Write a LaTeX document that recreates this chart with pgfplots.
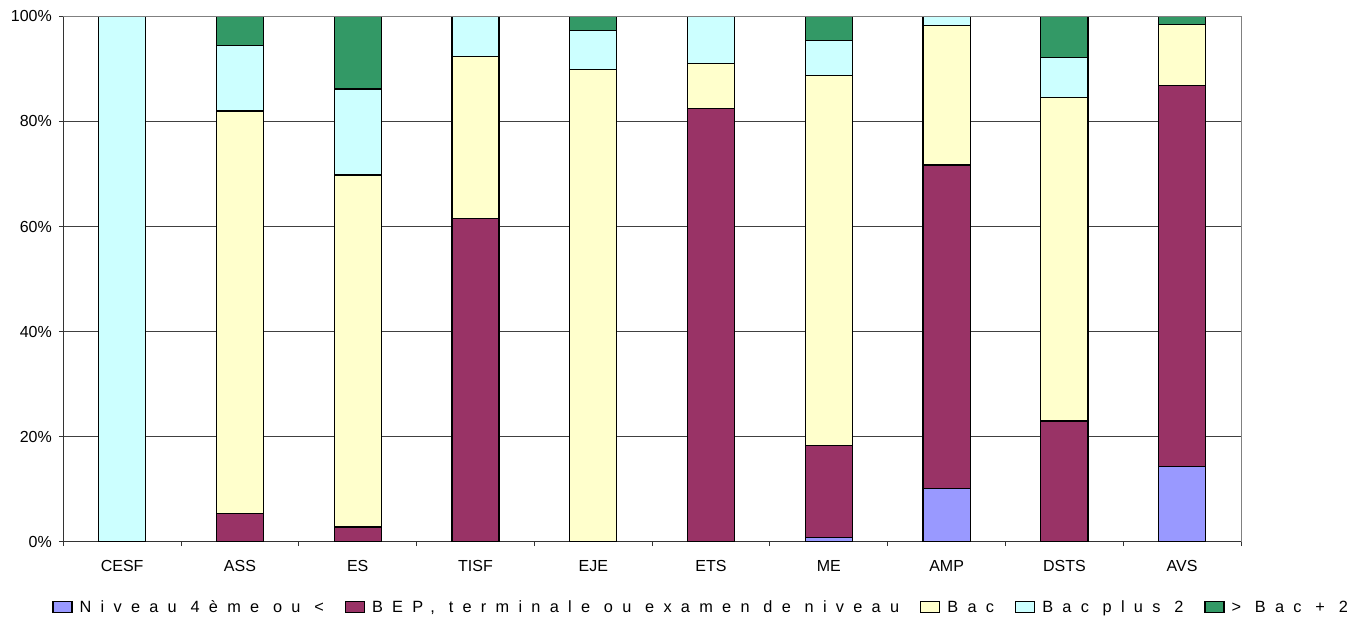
\documentclass[border=0pt]{standalone}
\usepackage{fontspec}
\setmainfont{Liberation Sans}
\newfontfamily\legfont[LetterSpace=57]{Liberation Sans}
\usepackage{pgfplots}
\pgfplotsset{compat=1.18}
\usepackage{pgfplotstable}

\definecolor{niv}{HTML}{9999FF}
\definecolor{bep}{HTML}{993366}
\definecolor{bac}{HTML}{FFFFCC}
\definecolor{bacdeux}{HTML}{CCFFFF}
\definecolor{supbac}{HTML}{339966}

% parts in %, one row per formation
\pgfplotstableread{
x   niv   bep    bac   bacdeux  supbac
0   0     0      0     100      0
1   0     5.4    76.6  12.4     5.6
2   0     2.8    67.0  16.4     13.8
3   0     61.5   30.8  7.7      0
4   0     0      89.9  7.4      2.7
5   0     82.5   8.6   8.9      0
6   0.75  17.65  70.4  6.6      4.6
7   10.1  61.6   26.5  1.8      0
8   0     23.0   61.5  7.75     7.75
9   14.4  72.4   11.6  0        1.6
}\parts

\begin{document}
\begin{tikzpicture}
\path[use as bounding box] (-31.65bp,-38.1bp) rectangle (645.85bp,270.9bp);
\begin{axis}[
    at={(0,0)}, anchor=south west,
    scale only axis,
    width=588.85bp, height=262.7bp,
    ybar stacked,
    bar width=0.4,
    xmin=-0.5, xmax=9.5,
    ymin=0, ymax=100,
    enlargelimits=false,
    axis lines*=left,
    axis line style={black!80, line width=0.6bp},
    xtick={-0.5,0.5,1.5,2.5,3.5,4.5,5.5,6.5,7.5,8.5,9.5},
    x tick label as interval,
    xticklabels={CESF,ASS,ES,TISF,EJE,ETS,ME,AMP,DSTS,AVS},
    ytick={0,20,40,60,80,100},
    yticklabel={\pgfmathprintnumber{\tick}\%},
    /pgf/number format/assume math mode=true,
    tick align=outside,
    major tick length=2.2bp,
    tick style={black!80, line width=0.5bp},
    ymajorgrids,
    major grid style={black!75, line width=0.4bp},
    ticklabel style={font=\fontsize{8bp}{9.6bp}\selectfont},
    xticklabel style={yshift=-3.5bp},
    legend image code/.code={\draw[#1, draw=black, line width=0.6bp] (0bp,0bp) rectangle (9.5bp,5.7bp);},
    legend columns=-1,
    legend style={
        at={(-0.0096,-0.126)}, anchor=west,
        draw=none, fill=none, inner sep=0pt,
        font=\legfont\fontsize{8.15bp}{10bp}\selectfont,
        nodes={inner sep=0pt, anchor=base west},
        /tikz/every odd column/.append style={column sep=3.5bp},
        /tikz/every even column/.append style={column sep=10.5bp},
    },
    every axis plot/.append style={draw=black, line width=0.6bp},
    after end axis/.code={
        \draw[black!50, line width=0.5bp] (rel axis cs:0,1) -- (rel axis cs:1,1) -- (rel axis cs:1,0);
    },
]
\addplot[fill=niv] table[x=x, y=niv] {\parts};
\addplot[fill=bep] table[x=x, y=bep] {\parts};
\addplot[fill=bac] table[x=x, y=bac] {\parts};
\addplot[fill=bacdeux] table[x=x, y=bacdeux] {\parts};
\addplot[fill=supbac] table[x=x, y=supbac] {\parts};
\legend{Niveau 4ème ou <, {BEP, terminale ou examen de niveau}, Bac, Bac plus 2, > Bac + 2}
\end{axis}
\end{tikzpicture}
\end{document}
